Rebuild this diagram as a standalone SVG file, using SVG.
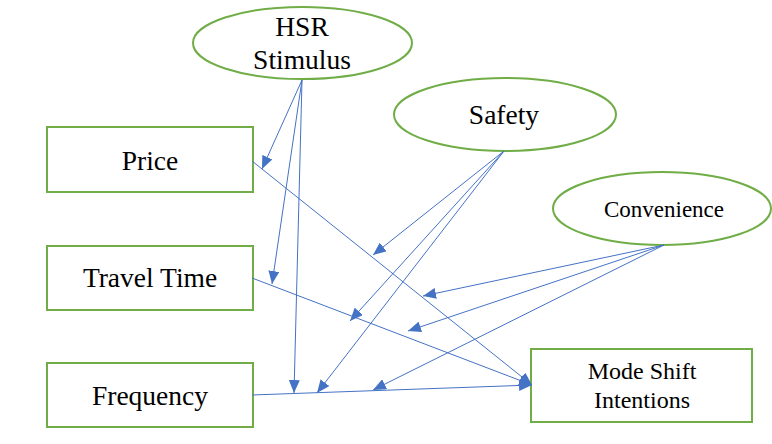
<svg xmlns="http://www.w3.org/2000/svg" width="772" height="444" viewBox="0 0 772 444">
<style>
.node{fill:#fff;stroke:#70AD47;stroke-width:2}
.lbl{font-family:"Liberation Serif","Times New Roman",serif;fill:#000;text-anchor:middle}
.edge{stroke:#4472C4;stroke-width:1;fill:none;marker-end:url(#ah)}
</style>
<defs>
<marker id="ah" viewBox="0 0 13 11" refX="13" refY="5.5" markerWidth="13" markerHeight="11" markerUnits="userSpaceOnUse" orient="auto">
<path d="M0,0 L13,5.5 L0,11 Z" fill="#4472C4"/>
</marker>
</defs>
<rect width="772" height="444" fill="#fff"/>
<g id="hsr"><ellipse class="node" cx="302.5" cy="43" rx="109.5" ry="36"/><text class="lbl" x="302" y="36" font-size="27.5">HSR</text><text class="lbl" x="302" y="69" font-size="27.5">Stimulus</text></g>
<g id="safety"><ellipse class="node" cx="505" cy="114.5" rx="111" ry="36.5"/><text class="lbl" x="504" y="124" font-size="27.5">Safety</text></g>
<g id="convenience"><ellipse class="node" cx="662" cy="208.5" rx="109" ry="36.5"/><text class="lbl" x="664" y="217" font-size="23">Convenience</text></g>
<g id="price"><rect class="node" x="47" y="127" width="206" height="65"/><text class="lbl" x="150" y="170" font-size="27.5">Price</text></g>
<g id="traveltime"><rect class="node" x="47" y="246" width="206" height="64"/><text class="lbl" x="150" y="287" font-size="27.5">Travel Time</text></g>
<g id="frequency"><rect class="node" x="47" y="363" width="206" height="64"/><text class="lbl" x="150" y="405" font-size="27.5">Frequency</text></g>
<g id="modeshift"><rect class="node" x="531" y="349" width="221" height="73"/><text class="lbl" x="642" y="379" font-size="24">Mode Shift</text><text class="lbl" x="642" y="408" font-size="24">Intentions</text></g>
<g id="connectors">
<line class="edge" x1="302" y1="80" x2="262" y2="169"/>
<line class="edge" x1="302" y1="80" x2="272" y2="284"/>
<line class="edge" x1="302" y1="80" x2="294" y2="393"/>
<line class="edge" x1="504" y1="151" x2="373" y2="255"/>
<line class="edge" x1="504" y1="151" x2="350" y2="321"/>
<line class="edge" x1="504" y1="151" x2="317" y2="393"/>
<line class="edge" x1="664" y1="245" x2="423" y2="296"/>
<line class="edge" x1="664" y1="245" x2="408" y2="331"/>
<line class="edge" x1="664" y1="245" x2="373" y2="390"/>
<line class="edge" x1="252" y1="161" x2="532" y2="385"/>
<line class="edge" x1="252" y1="278" x2="532" y2="385"/>
<line class="edge" x1="252" y1="395" x2="532" y2="385"/>
</g>
</svg>
